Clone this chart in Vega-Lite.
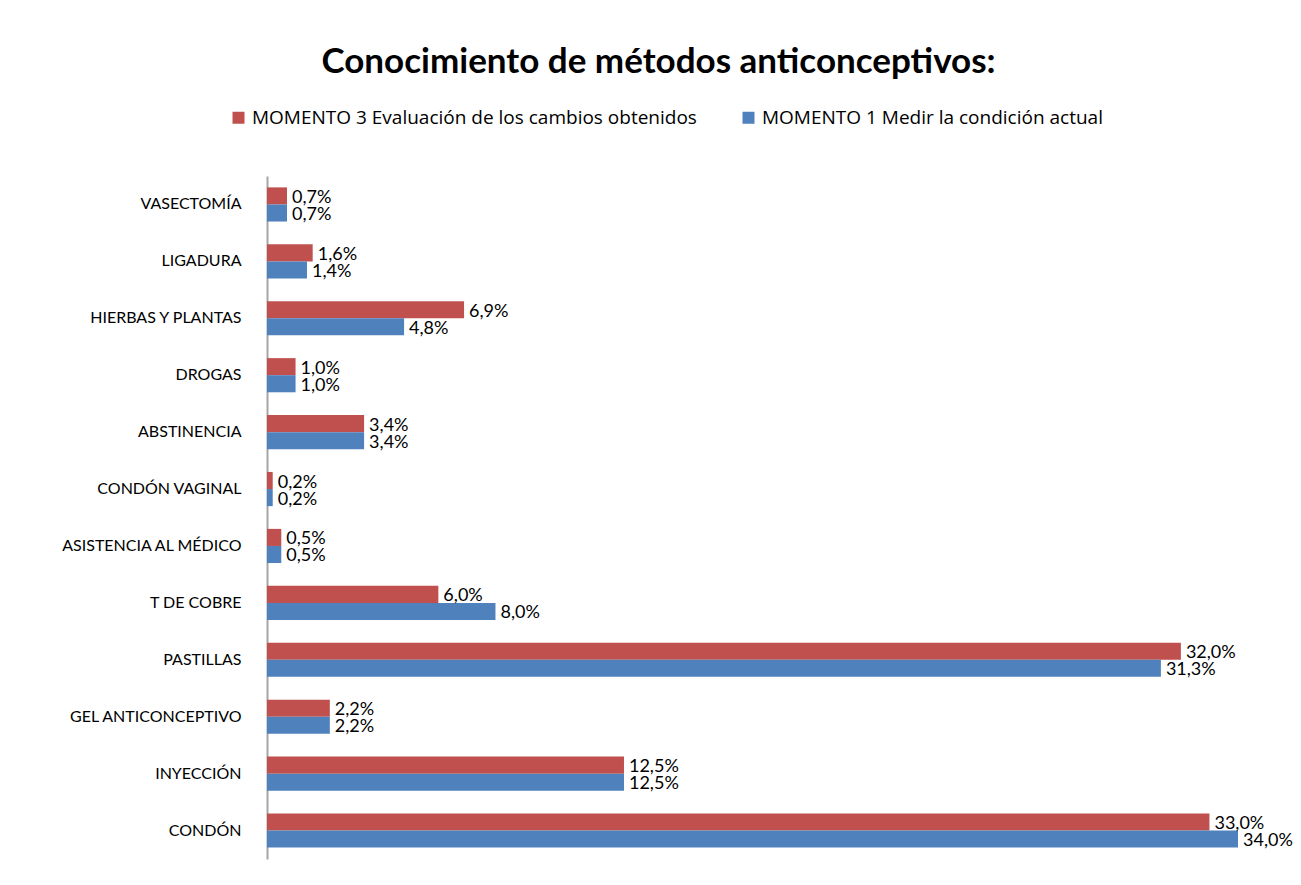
{
  "$schema": "https://vega.github.io/schema/vega-lite/v6.json",
  "autosize": {"type": "none"},
  "width": 971,
  "height": 683,
  "padding": {"left": 267, "top": 176, "right": 63, "bottom": 26},
  "background": "white",
  "config": {
    "font": "Lato",
    "view": {"stroke": null},
    "locale": {"number": {"decimal": ",", "thousands": ".", "grouping": [3], "currency": ["", "€"]}}
  },
  "title": {
    "text": "Conocimiento de métodos anticonceptivos:",
    "fontSize": 35,
    "fontWeight": "bold",
    "font": "Lato",
    "color": "black",
    "anchor": "middle",
    "frame": "group",
    "dx": -94,
    "offset": 28
  },
  "data": {
    "values": [
      {"metodo": "VASECTOMÍA", "serie": "MOMENTO 3 Evaluación de los cambios obtenidos", "valor": 0.007},
      {"metodo": "VASECTOMÍA", "serie": "MOMENTO 1 Medir la condición actual", "valor": 0.007},
      {"metodo": "LIGADURA", "serie": "MOMENTO 3 Evaluación de los cambios obtenidos", "valor": 0.016},
      {"metodo": "LIGADURA", "serie": "MOMENTO 1 Medir la condición actual", "valor": 0.014},
      {"metodo": "HIERBAS Y PLANTAS", "serie": "MOMENTO 3 Evaluación de los cambios obtenidos", "valor": 0.069},
      {"metodo": "HIERBAS Y PLANTAS", "serie": "MOMENTO 1 Medir la condición actual", "valor": 0.048},
      {"metodo": "DROGAS", "serie": "MOMENTO 3 Evaluación de los cambios obtenidos", "valor": 0.010},
      {"metodo": "DROGAS", "serie": "MOMENTO 1 Medir la condición actual", "valor": 0.010},
      {"metodo": "ABSTINENCIA", "serie": "MOMENTO 3 Evaluación de los cambios obtenidos", "valor": 0.034},
      {"metodo": "ABSTINENCIA", "serie": "MOMENTO 1 Medir la condición actual", "valor": 0.034},
      {"metodo": "CONDÓN VAGINAL", "serie": "MOMENTO 3 Evaluación de los cambios obtenidos", "valor": 0.002},
      {"metodo": "CONDÓN VAGINAL", "serie": "MOMENTO 1 Medir la condición actual", "valor": 0.002},
      {"metodo": "ASISTENCIA AL MÉDICO", "serie": "MOMENTO 3 Evaluación de los cambios obtenidos", "valor": 0.005},
      {"metodo": "ASISTENCIA AL MÉDICO", "serie": "MOMENTO 1 Medir la condición actual", "valor": 0.005},
      {"metodo": "T DE COBRE", "serie": "MOMENTO 3 Evaluación de los cambios obtenidos", "valor": 0.060},
      {"metodo": "T DE COBRE", "serie": "MOMENTO 1 Medir la condición actual", "valor": 0.080},
      {"metodo": "PASTILLAS", "serie": "MOMENTO 3 Evaluación de los cambios obtenidos", "valor": 0.320},
      {"metodo": "PASTILLAS", "serie": "MOMENTO 1 Medir la condición actual", "valor": 0.313},
      {"metodo": "GEL ANTICONCEPTIVO", "serie": "MOMENTO 3 Evaluación de los cambios obtenidos", "valor": 0.022},
      {"metodo": "GEL ANTICONCEPTIVO", "serie": "MOMENTO 1 Medir la condición actual", "valor": 0.022},
      {"metodo": "INYECCIÓN", "serie": "MOMENTO 3 Evaluación de los cambios obtenidos", "valor": 0.125},
      {"metodo": "INYECCIÓN", "serie": "MOMENTO 1 Medir la condición actual", "valor": 0.125},
      {"metodo": "CONDÓN", "serie": "MOMENTO 3 Evaluación de los cambios obtenidos", "valor": 0.330},
      {"metodo": "CONDÓN", "serie": "MOMENTO 1 Medir la condición actual", "valor": 0.340}
    ]
  },
  "encoding": {
    "y": {
      "field": "metodo",
      "type": "nominal",
      "sort": null,
      "scale": {"paddingInner": 0.4, "paddingOuter": 0.2},
      "axis": {
        "title": null,
        "ticks": false,
        "domainColor": "#A6A6A6",
        "domainWidth": 2,
        "labelFontSize": 16,
        "labelColor": "black",
        "labelPadding": 26,
        "labelLimit": 0,
        "labelFont": "Lato"
      }
    },
    "yOffset": {
      "field": "serie",
      "type": "nominal",
      "sort": ["MOMENTO 3 Evaluación de los cambios obtenidos", "MOMENTO 1 Medir la condición actual"]
    },
    "x": {
      "field": "valor",
      "type": "quantitative",
      "scale": {"domain": [0, 0.34], "nice": false},
      "axis": null
    }
  },
  "layer": [
    {
      "mark": {"type": "bar", "stroke": null},
      "encoding": {
        "color": {
          "field": "serie",
          "type": "nominal",
          "sort": ["MOMENTO 3 Evaluación de los cambios obtenidos", "MOMENTO 1 Medir la condición actual"],
          "scale": {
            "domain": ["MOMENTO 3 Evaluación de los cambios obtenidos", "MOMENTO 1 Medir la condición actual"],
            "range": ["#C0504D", "#4F81BD"]
          },
          "legend": {
            "title": null,
            "orient": "none",
            "direction": "horizontal",
            "legendX": -38,
            "legendY": -68,
            "symbolType": "square",
            "symbolSize": 144,
            "symbolStrokeWidth": 0,
            "labelFontSize": 19,
            "labelColor": "black",
            "labelFont": "Open Sans",
            "labelLimit": 0,
            "labelOffset": 4,
            "columnPadding": 42
          }
        }
      }
    },
    {
      "mark": {"type": "text", "align": "left", "baseline": "middle", "dx": 5, "dy": 2, "fontSize": 18, "font": "Lato", "color": "black"},
      "encoding": {
        "text": {"field": "valor", "type": "quantitative", "format": ".1%"}
      }
    }
  ]
}
